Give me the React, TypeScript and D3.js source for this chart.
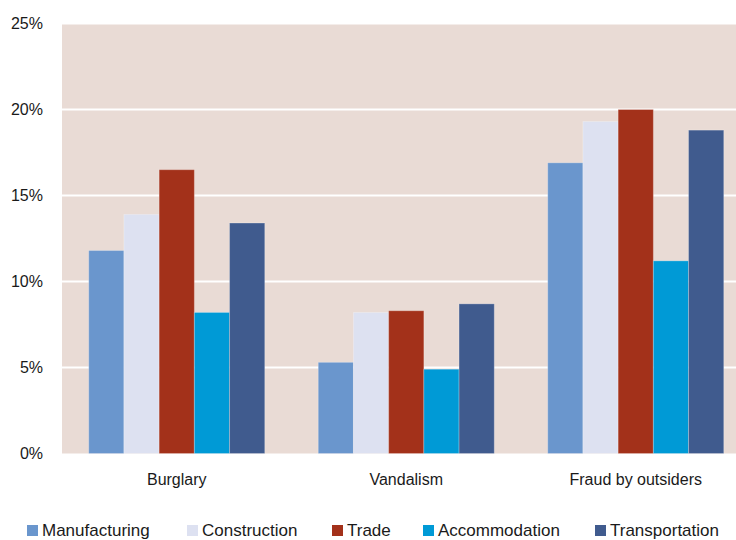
import { useEffect, useRef } from 'react';
import * as d3 from 'd3';

const categories = ['Burglary', 'Vandalism', 'Fraud by outsiders'];
const sectors = ['Manufacturing', 'Construction', 'Trade', 'Accommodation', 'Transportation'];
const colors = ['#6a96cd', '#dde1f1', '#a3311a', '#009ad6', '#405b8e'];
const manufacturing = [11.8, 5.3, 16.9];
const construction = [13.9, 8.2, 19.3];
const trade = [16.5, 8.3, 20.0];
const accommodation = [8.2, 4.9, 11.2];
const transportation = [13.4, 8.7, 18.8];
const yTicks = [0, 5, 10, 15, 20, 25];
const legendX = [27, 187, 332, 423, 595];

const series = [manufacturing, construction, trade, accommodation, transportation];

export default function App() {
  const ref = useRef<SVGSVGElement | null>(null);

  useEffect(() => {
    if (!ref.current) return;
    const svg = d3.select(ref.current);
    svg.selectAll('*').remove();

    const width = 736;
    const height = 540;
    const margin = { top: 23.5, left: 62, right: -14.5, bottom: 86.5 };
    const innerW = width - margin.left - margin.right;
    const innerH = height - margin.top - margin.bottom;
    const font = '"Liberation Sans", Arial, sans-serif';

    const x0 = d3.scaleBand().domain(categories).range([0, innerW]).paddingInner(0.233).paddingOuter(0.1165);
    const x1 = d3.scaleBand().domain(sectors).range([0, x0.bandwidth()]);
    const y = d3.scaleLinear().domain([0, 25]).range([innerH, 0]);

    const g = svg.append('g').attr('transform', `translate(${margin.left},${margin.top})`);

    g.append('rect').attr('width', innerW).attr('height', innerH).attr('fill', '#e9dbd5');

    g.selectAll('line.grid')
      .data(yTicks.slice(1))
      .enter()
      .append('line')
      .attr('class', 'grid')
      .attr('x1', 0)
      .attr('x2', innerW)
      .attr('y1', (d) => y(d))
      .attr('y2', (d) => y(d))
      .attr('stroke', '#ffffff')
      .attr('stroke-width', 2);

    categories.forEach((cat, i) => {
      sectors.forEach((s, j) => {
        const v = series[j][i];
        g.append('rect')
          .attr('x', (x0(cat) || 0) + (x1(s) || 0))
          .attr('y', y(v))
          .attr('width', x1.bandwidth())
          .attr('height', innerH - y(v))
          .attr('fill', colors[j])
          .attr('stroke', 'rgba(255,255,255,0.25)')
          .attr('stroke-width', 1);
      });
    });

    g.selectAll('text.ytick')
      .data(yTicks)
      .enter()
      .append('text')
      .attr('class', 'ytick')
      .attr('x', -19)
      .attr('y', (d) => y(d))
      .attr('dy', '0.35em')
      .attr('text-anchor', 'end')
      .style('font-family', font)
      .style('font-size', '16px')
      .attr('fill', '#1a1a1a')
      .text((d) => `${d}%`);

    g.selectAll('text.xtick')
      .data(categories)
      .enter()
      .append('text')
      .attr('class', 'xtick')
      .attr('x', (d) => (x0(d) || 0) + x0.bandwidth() / 2)
      .attr('y', innerH + 31)
      .attr('text-anchor', 'middle')
      .style('font-family', font)
      .style('font-size', '16px')
      .attr('fill', '#1a1a1a')
      .text((d) => d);

    const legend = svg.append('g');
    sectors.forEach((s, j) => {
      const item = legend.append('g').attr('transform', `translate(${legendX[j]},525)`);
      item.append('rect').attr('width', 11).attr('height', 11).attr('fill', colors[j]);
      item
        .append('text')
        .attr('x', 15)
        .attr('y', 11)
        .style('font-family', font)
        .style('font-size', '17px')
        .attr('fill', '#1a1a1a')
        .text(s);
    });
  }, []);

  return (
    <svg
      ref={ref}
      width={736}
      height={540}
      style={{ position: 'fixed', left: 0, top: 0, display: 'block', background: '#fff' }}
    />
  );
}
